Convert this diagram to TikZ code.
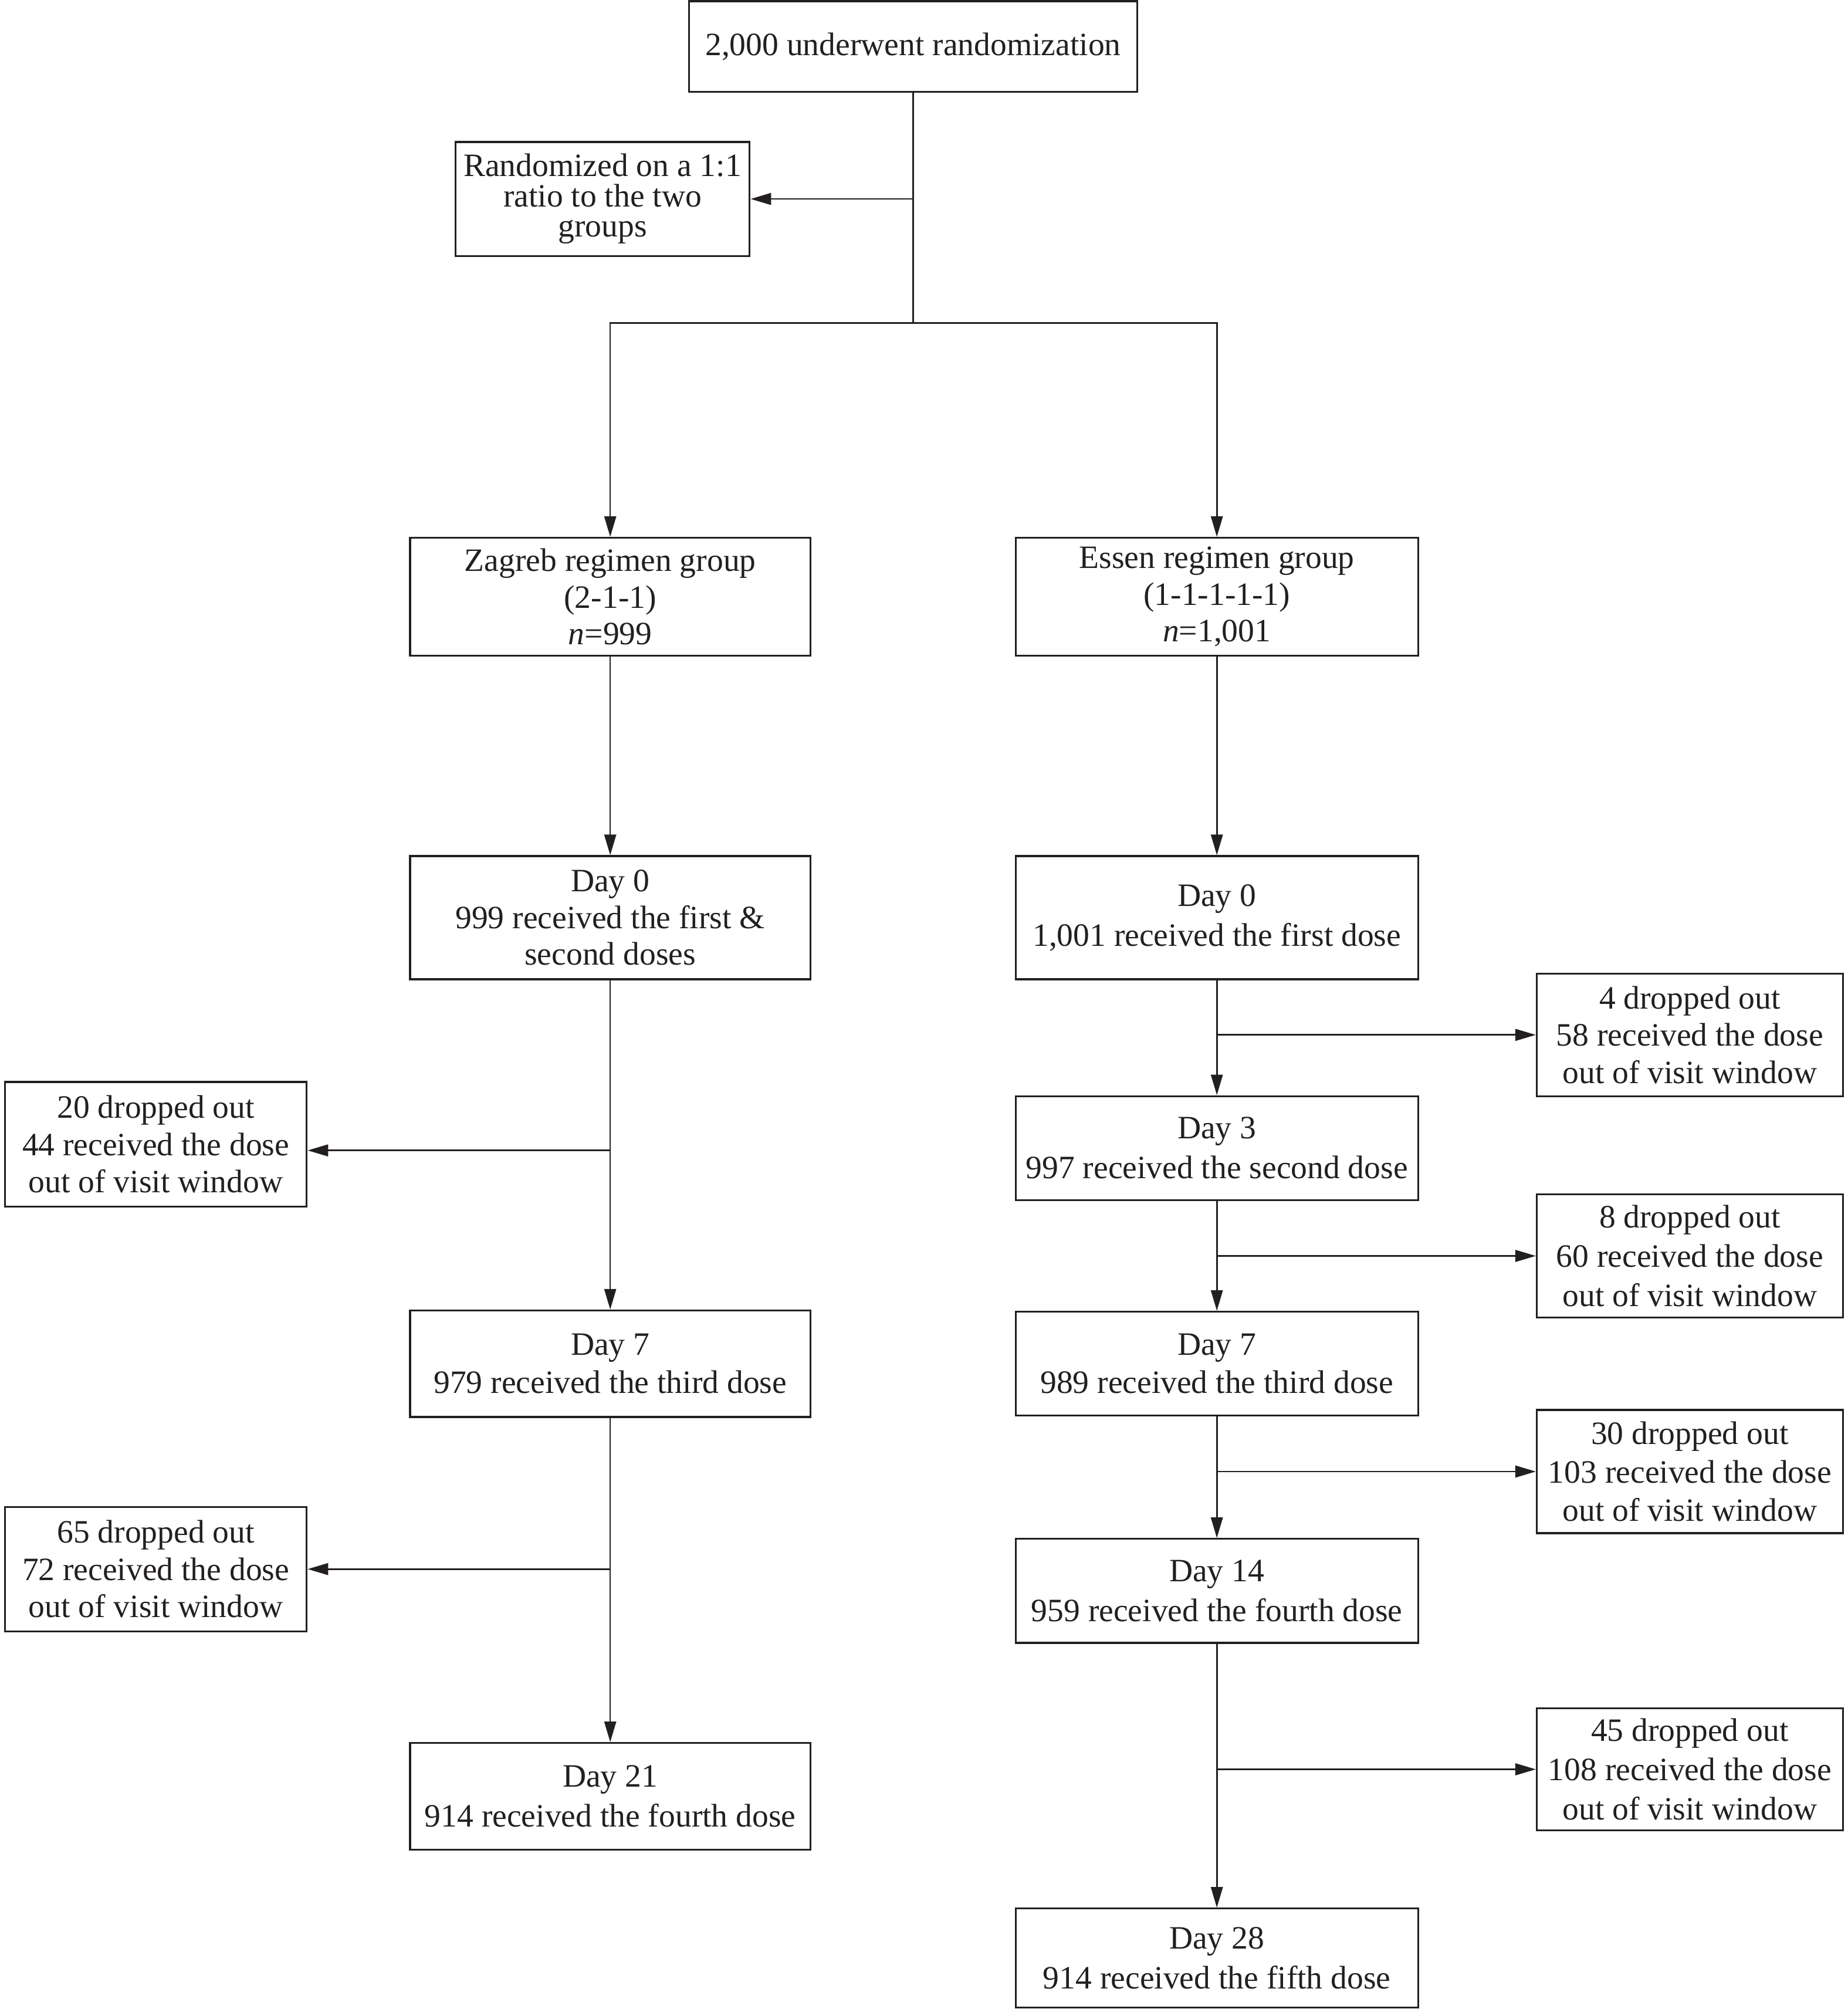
\documentclass[tikz,border=0pt]{standalone}
\usepackage{fontspec}
\setmainfont{Liberation Serif}
\usetikzlibrary{arrows.meta}
\definecolor{ink}{RGB}{35,31,32}
\begin{document}
\begin{tikzpicture}[x=0.5pt,y=-0.5pt,
  box/.style={draw=ink,line width=0.75pt,text=ink,align=center,inner sep=0pt,
    font=\fontsize{12.7}{14.5}\selectfont},
  zbox/.style={box,minimum width=156pt},
  ebox/.style={box,minimum width=156.8pt},
  dbox/.style={box,minimum height=48pt},
  conn/.style={draw=ink,line width=0.6pt},
  arr/.style={conn,-{Triangle[length=8pt,width=4.6pt]}}]
\useasboundingbox (0,0) rectangle (1440,1565.26);
% top
\node[box,minimum width=174.75pt,minimum height=35.25pt] (top) at (711.5,36.2) {2,000 underwent randomization};
\node[box,minimum width=114.65pt,minimum height=44.4pt,font=\fontsize{12.7}{11.8}\selectfont] (rand) at (469.5,155) {Randomized on a 1:1\\ratio to the two\\groups};
% groups
\node[zbox,minimum height=46pt,font=\fontsize{12.7}{14.25}\selectfont] (zg) at (475.5,465) {Zagreb regimen group\\(2-1-1)\\\textit{n}=999};
\node[ebox,minimum height=46pt,font=\fontsize{12.7}{14.25}\selectfont] (eg) at (948.2,465) {Essen regimen group\\(1-1-1-1-1)\\\textit{n}=1,001};
% Zagreb column
\node[zbox,minimum height=48pt,font=\fontsize{12.7}{14.25}\selectfont] (z0) at (475.5,715) {Day 0\\999 received the first \&\\second doses};
\node[zbox,minimum height=41.5pt,font=\fontsize{12.7}{15}\selectfont] (z7) at (475.5,1062.5) {Day 7\\979 received the third dose};
\node[zbox,minimum height=41.5pt,font=\fontsize{12.7}{15.5}\selectfont] (z21) at (475.5,1399.5) {Day 21\\914 received the fourth dose};
\node[dbox,minimum width=117.6pt,minimum height=48.5pt] (zd1) at (121.4,891.5) {20 dropped out\\44 received the dose\\out of visit window};
\node[dbox,minimum width=117.6pt,minimum height=48.5pt] (zd2) at (121.4,1222.5) {65 dropped out\\72 received the dose\\out of visit window};
% Essen column
\node[ebox,minimum height=48pt,font=\fontsize{12.7}{15.5}\selectfont] (e0) at (948.2,715) {Day 0\\1,001 received the first dose};
\node[ebox,minimum height=40.5pt,font=\fontsize{12.7}{15.5}\selectfont] (e3) at (948.2,894.5) {Day 3\\997 received the second dose};
\node[ebox,minimum height=40.5pt,font=\fontsize{12.7}{15}\selectfont] (e7) at (948.2,1062.5) {Day 7\\989 received the third dose};
\node[ebox,minimum height=40.5pt,font=\fontsize{12.7}{15.5}\selectfont] (e14) at (948.2,1239.5) {Day 14\\959 received the fourth dose};
\node[ebox,minimum height=38.5pt,font=\fontsize{12.7}{15.5}\selectfont] (e28) at (948.2,1525.5) {Day 28\\914 received the fifth dose};
\node[dbox,minimum width=119.25pt,minimum height=47.75pt] (ed1) at (1316.75,806.3) {4 dropped out\\58 received the dose\\out of visit window};
\node[dbox,minimum width=119.25pt,font=\fontsize{12.7}{15.25}\selectfont] (ed2) at (1316.75,978.5) {8 dropped out\\60 received the dose\\out of visit window};
\node[dbox,minimum width=119.25pt,font=\fontsize{12.7}{15}\selectfont] (ed3) at (1316.75,1146.5) {30 dropped out\\103 received the dose\\out of visit window};
\node[dbox,minimum width=119.25pt,minimum height=47.5pt,font=\fontsize{12.7}{15.25}\selectfont] (ed4) at (1316.75,1378.5) {45 dropped out\\108 received the dose\\out of visit window};
% connectors
\coordinate (split) at (711.5,251.6);
\coordinate (zb1) at (475.5,896.3);
\draw[conn] (top.south) -- (split);
\draw[arr] (top.south |- rand.east) -- (rand.east);
\draw[arr] (split) -| (zg.north);
\draw[arr] (split) -| (eg.north);
\draw[arr] (zg.south) -- (z0.north);
\draw[arr] (eg.south) -- (e0.north);
% Zagreb
\draw[arr] (z0.south) -- (z7.north);
\draw[arr] (zb1) -- (zd1.east |- zb1);
\draw[arr] (z7.south) -- (z21.north);
\draw[arr] (z7.south |- zd2.east) -- (zd2.east);
% Essen
\draw[arr] (e0.south) -- (e3.north);
\draw[arr] (e0.south |- ed1.west) -- (ed1.west);
\draw[arr] (e3.south) -- (e7.north);
\draw[arr] (e3.south |- ed2.west) -- (ed2.west);
\draw[arr] (e7.south) -- (e14.north);
\draw[arr] (e7.south |- ed3.west) -- (ed3.west);
\draw[arr] (e14.south) -- (e28.north);
\draw[arr] (e14.south |- ed4.west) -- (ed4.west);
\end{tikzpicture}
\end{document}
